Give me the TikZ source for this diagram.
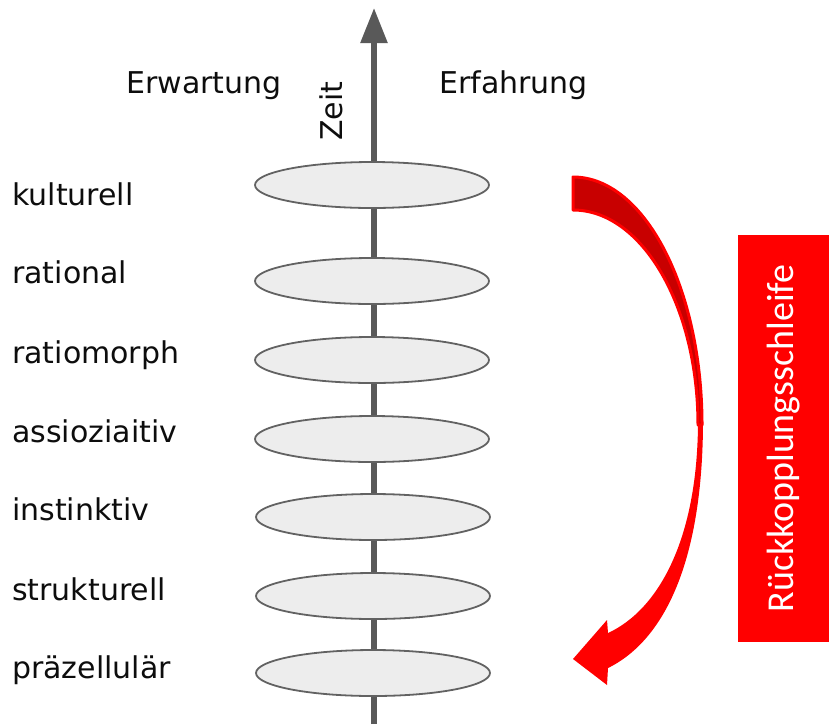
\documentclass[tikz,border=0pt]{standalone}
\usepackage{fontspec}
\setmainfont{DejaVu Sans}
\newfontfamily\loopfont{Carlito}
\usetikzlibrary{shapes.geometric,arrows.meta,positioning,backgrounds}
\definecolor{axisgray}{HTML}{595959}
\definecolor{ellfill}{HTML}{EDEDED}
\definecolor{ellline}{HTML}{626262}
\definecolor{loopred}{HTML}{FF0000}
\definecolor{loopdark}{HTML}{C80000}

\begin{document}
\begin{tikzpicture}[
    x=1pt, y=1pt,
    levelell/.style={ellipse, draw=ellline, fill=ellfill, line width=1.8pt, minimum width=234pt, minimum height=46pt, inner sep=0pt},
    levellabel/.style={anchor=base west, inner sep=0pt, font=\fontsize{30}{36}\selectfont, text=black!95},
    timearrow/.style={-{Triangle[length=35pt, width=26pt]}, line width=5.5pt, draw=axisgray},
    loopbox/.style={rectangle, fill=loopred, rotate=90, minimum width=407pt, minimum height=91pt, inner sep=0pt, text=white, font=\loopfont\fontsize{38}{44}\selectfont}
]

\useasboundingbox (0,0) rectangle (829,-724);

% === LEVELS (ellipses on the time axis) ===
\node[levelell] (kulturell) at (372,-185) {};
\node[levelell] (rational) at (372,-281) {};
\node[levelell] (ratiomorph) at (372,-360) {};
\node[levelell] (assoziativ) at (372,-439) {};
\node[levelell] (instinktiv) at (373,-517) {};
\node[levelell] (strukturell) at (373,-596) {};
\node[levelell] (praezellular) at (373,-673) {};

% === LEVEL NAMES (left column) ===
\node[levellabel] (kulturell-label) at (12,-205) {kulturell};
\node[levellabel] (rational-label) at (12,-283) {rational};
\node[levellabel] (ratiomorph-label) at (12,-363) {ratiomorph};
\node[levellabel] (assoziativ-label) at (12,-442) {assioziaitiv};
\node[levellabel] (instinktiv-label) at (12,-520) {instinktiv};
\node[levellabel] (strukturell-label) at (12,-600) {strukturell};
\node[levellabel] (praezellular-label) at (12,-678) {präzellulär};

% === HEADINGS ===
\node[levellabel] (erwartung) at (126,-93) {Erwartung};
\node[levellabel] (erfahrung) at (439,-93) {Erfahrung};
\node[rotate=90, inner sep=0pt, font=\fontsize{30}{36}\selectfont, text=black!95] (zeit) at (331,-111) {Zeit};

% === TIME AXIS ===
\coordinate (axis-bot) at (374,-724);
\coordinate (axis-top) at (374,-8);
\begin{scope}[on background layer]
    \draw[timearrow] (axis-bot) -- (axis-top);
\end{scope}

% === FEEDBACK LOOP ===
\node[loopbox] (loop-label) at (783.5,-438.5) {Rückkopplungsschleife};

\coordinate (loop-tail) at (573,-177);
\coordinate (loop-turn) at (703,-420);
\coordinate (loop-tip) at (573,-659);
% lower part with head
\fill[loopred] (loop-turn) .. controls (703,-560) and (665,-640) .. (608,-668)
    -- (607,-685) -- (loop-tip) -- (607,-620) -- (608,-633)
    .. controls (658,-610) and (698,-540) .. (698,-420) -- cycle;
% upper (back) part
\filldraw[fill=loopdark, draw=loopred, line width=3pt, line join=round]
    (loop-tail) arc[start angle=90, end angle=0, x radius=129, y radius=248]
    -- ++(-4,0) arc[start angle=0, end angle=90, x radius=125, y radius=215] -- cycle;

\end{tikzpicture}
\end{document}
